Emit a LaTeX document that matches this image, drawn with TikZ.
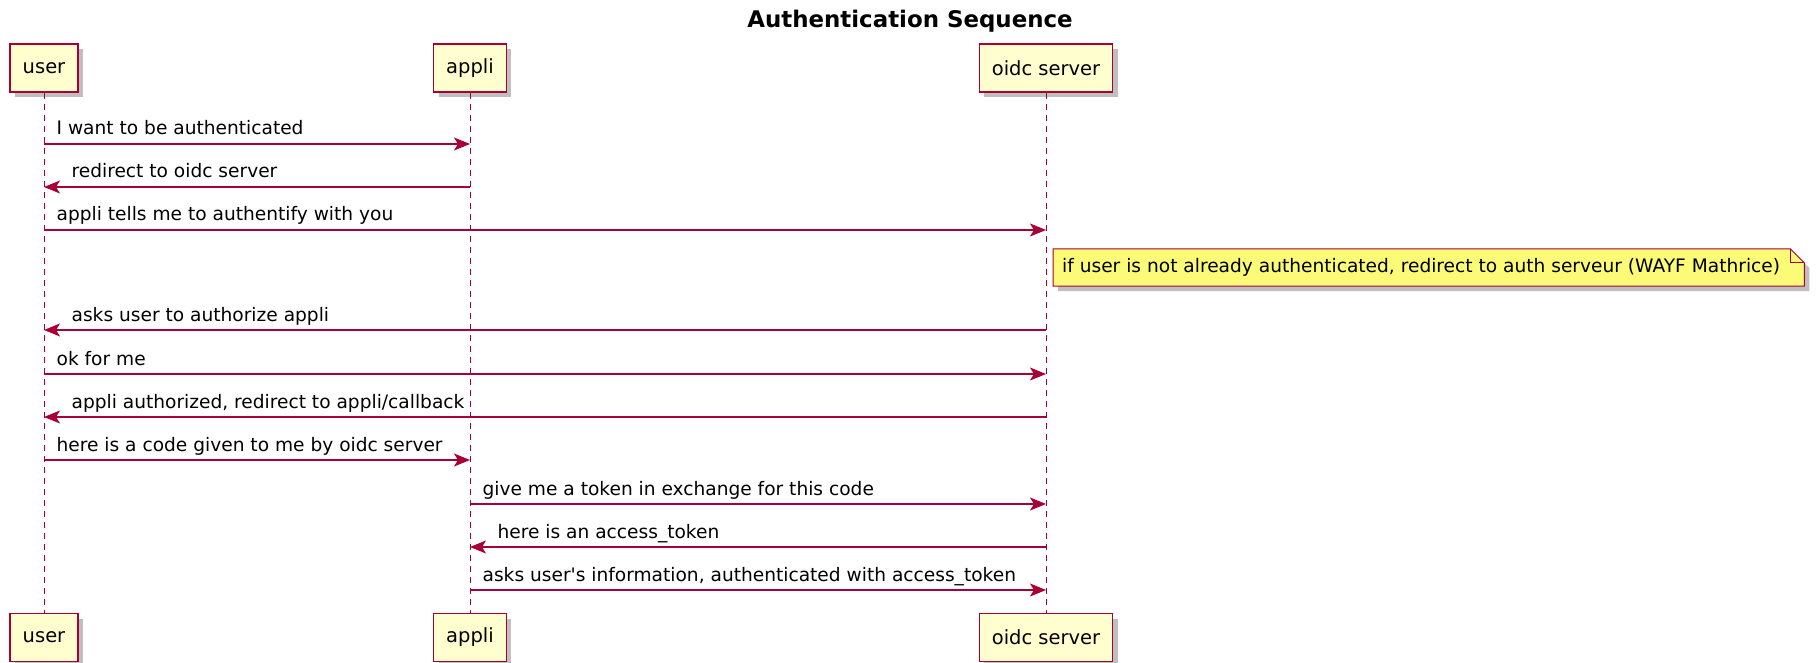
\documentclass[tikz,border=0pt]{standalone}
\usepackage{fontspec}
\setmainfont{DejaVu Sans}
\usetikzlibrary{arrows.meta,calc,shadows,backgrounds}
\definecolor{umlred}{HTML}{A80036}
\definecolor{umlbox}{HTML}{FEFECE}
\definecolor{umlnote}{HTML}{FBFB77}

\begin{document}
\begin{tikzpicture}[x=1pt,y=-1pt,
  actor/.style={draw=umlred, fill=umlbox, line width=1.5pt, minimum height=48pt,
    inner xsep=12.5pt, font=\fontsize{19.5pt}{22pt}\selectfont,
    drop shadow={shadow xshift=5pt, shadow yshift=-5pt, fill=black, opacity=.25}},
  life/.style={draw=umlred, dash pattern=on 6pt off 5pt, line width=1pt},
  msg/.style={draw=umlred, line width=1.3pt, -{Stealth[length=16pt,width=13pt,inset=4pt]}},
  txt/.style={anchor=base west, inner sep=0pt, yshift=9pt, font=\fontsize{18.6pt}{22pt}\selectfont},
  txtR/.style={txt, xshift=12pt},
  txtL/.style={txt, xshift=27pt}]
  \useasboundingbox (0,0) rectangle (1818,663);
  \node [anchor=base, font=\bfseries\fontsize{22.9pt}{26pt}\selectfont] (title) at (910,28) {Authentication Sequence};
  % participants, top and bottom
  \node [actor] (userTop) at (44,68) {user};
  \node [actor] (appliTop) at (470,68) {appli};
  \node [actor] (oidcTop) at (1046,68) {oidc server};
  \node [actor] (userBot) at (44,637.5) {user};
  \node [actor] (appliBot) at (470,637.5) {appli};
  \node [actor] (oidcBot) at (1046,637.5) {oidc server};
  \draw [life] (userTop) -- (userBot);
  \draw [life] (appliTop) -- (appliBot);
  \draw [life] (oidcTop) -- (oidcBot);
  % one row of points on the lifelines for each message
  \foreach \r/\y in {1/144,2/187,3/230,4/330,5/374,6/417,7/460,8/504,9/547,10/590} {
    \coordinate (U\r) at (44,\y);
    \coordinate (A\r) at (470,\y);
    \coordinate (O\r) at (1046,\y);
  }
  \draw [msg] (U1) -- (A1) node [pos=0,txtR] {I want to be authenticated};
  \draw [msg] (A2) -- (U2) node [pos=1,txtL] {redirect to oidc server};
  \draw [msg] (U3) -- (O3) node [pos=0,txtR] {appli tells me to authentify with you};
  \draw [msg] (O4) -- (U4) node [pos=1,txtL] {asks user to authorize appli};
  \draw [msg] (U5) -- (O5) node [pos=0,txtR] {ok for me};
  \draw [msg] (O6) -- (U6) node [pos=1,txtL] {appli authorized, redirect to appli/callback};
  \draw [msg] (U7) -- (A7) node [pos=0,txtR] {here is a code given to me by oidc server};
  \draw [msg] (A8) -- (O8) node [pos=0,txtR] {give me a token in exchange for this code};
  \draw [msg] (O9) -- (A9) node [pos=1,txtL] {here is an access\_token};
  \draw [msg] (A10) -- (O10) node [pos=0,txtR] {asks user\textquotesingle s information, authenticated with access\_token};
  % note with folded corner
  \node [anchor=west, inner xsep=9pt, inner ysep=9.5pt, text height=14pt, text depth=4pt,
    font=\fontsize{18.6pt}{22pt}\selectfont] (note) at (1053,267.5)
    {if user is not already authenticated, redirect to auth serveur (WAYF Mathrice)};
  \coordinate (NE) at ($(note.north east)+(15pt,0pt)$);
  \coordinate (SE) at ($(note.south east)+(15pt,0pt)$);
  \coordinate (F1) at ($(NE)+(-14pt,0pt)$);
  \coordinate (F2) at ($(NE)+(0pt,-14pt)$);
  \begin{pgfonlayer}{background}
    \fill [black, opacity=.25] ($(note.north west)+(5pt,-5pt)$) -- ($(F1)+(5pt,-5pt)$) -- ($(F2)+(5pt,-5pt)$)
      -- ($(SE)+(5pt,-5pt)$) -- ($(note.south west)+(5pt,-5pt)$) -- cycle;
    \filldraw [draw=umlred, fill=umlnote, line width=1pt] (note.north west) -- (F1) -- (F2)
      -- (SE) -- (note.south west) -- cycle;
  \end{pgfonlayer}
  \draw [umlred, line width=1pt] (F1) |- (F2);
\end{tikzpicture}
\end{document}
